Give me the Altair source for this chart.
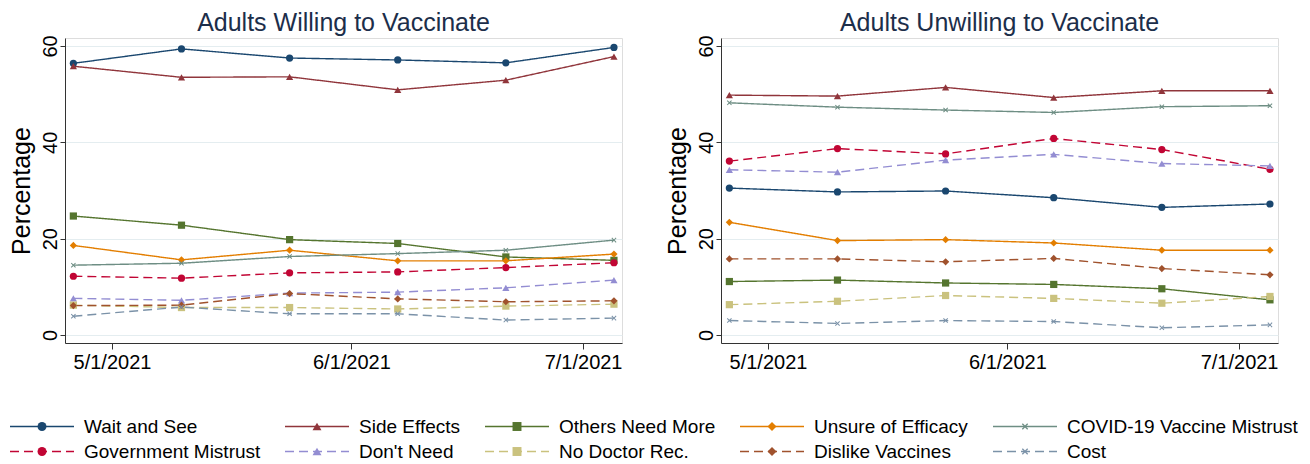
import altair as alt
import pandas as pd

# ---------------- data ----------------
dates = ["2021-04-26T00:00:00", "2021-05-10T00:00:00", "2021-05-24T00:00:00",
         "2021-06-07T00:00:00", "2021-06-21T00:00:00", "2021-07-05T00:00:00"]

series = ["Wait and See", "Side Effects", "Others Need More", "Unsure of Efficacy",
          "COVID-19 Vaccine Mistrust", "Government Mistrust", "Don't Need",
          "No Doctor Rec.", "Dislike Vaccines", "Cost"]

willing_wait = [56.4, 59.4, 57.5, 57.1, 56.5, 59.7]
willing_side = [55.8, 53.5, 53.6, 50.9, 52.9, 57.8]
willing_others = [24.7, 22.8, 19.8, 19.0, 16.2, 15.5]
willing_unsure = [18.6, 15.6, 17.6, 15.4, 15.4, 16.8]
willing_covid = [14.5, 14.9, 16.3, 16.9, 17.6, 19.7]
willing_govt = [12.2, 11.8, 12.9, 13.1, 14.0, 15.0]
willing_dontneed = [7.6, 7.2, 8.7, 8.9, 9.8, 11.4]
willing_nodoc = [6.2, 5.7, 5.7, 5.4, 6.0, 6.4]
willing_dislike = [6.1, 6.2, 8.6, 7.5, 6.9, 7.1]
willing_cost = [3.9, 5.8, 4.4, 4.4, 3.1, 3.5]

unwilling_wait = [30.5, 29.7, 29.9, 28.5, 26.5, 27.2]
unwilling_side = [49.8, 49.6, 51.4, 49.3, 50.7, 50.7]
unwilling_others = [11.1, 11.4, 10.8, 10.5, 9.6, 7.3]
unwilling_unsure = [23.4, 19.6, 19.8, 19.1, 17.6, 17.6]
unwilling_covid = [48.2, 47.3, 46.7, 46.2, 47.4, 47.6]
unwilling_govt = [36.1, 38.7, 37.6, 40.8, 38.5, 34.4]
unwilling_dontneed = [34.3, 33.8, 36.3, 37.5, 35.6, 35.1]
unwilling_nodoc = [6.3, 7.0, 8.2, 7.6, 6.6, 8.0]
unwilling_dislike = [15.8, 15.8, 15.2, 15.9, 13.8, 12.5]
unwilling_cost = [3.0, 2.4, 3.0, 2.8, 1.5, 2.1]

y_ticks = [0, 20, 40, 60]

# ---------------- styles ----------------
colors = ["#1a476f", "#90353b", "#55752f", "#e37e00", "#6e8e84",
          "#c10534", "#938dd2", "#cac27e", "#a0522d", "#7b92a8"]
XPATH = "M-0.7,-0.5L-0.5,-0.7L0,-0.2L0.5,-0.7L0.7,-0.5L0.2,0L0.7,0.5L0.5,0.7L0,0.2L-0.5,0.7L-0.7,0.5L-0.2,0Z"
shapes = ["circle", "triangle-up", "square", "diamond", XPATH,
          "circle", "triangle-up", "square", "diamond", XPATH]
dashes = [[1, 0]] * 5 + [[9, 5]] * 5

FONT = "Liberation Sans"
NO_VIEW = alt.ViewBackground(stroke="transparent", fill="transparent")


def long_df(cols):
    rows = []
    for name, vals in zip(series, cols):
        for d, v in zip(dates, vals):
            rows.append({"series": name, "date": d, "value": v})
    return pd.DataFrame(rows)


df_w = long_df([willing_wait, willing_side, willing_others, willing_unsure, willing_covid,
                willing_govt, willing_dontneed, willing_nodoc, willing_dislike, willing_cost])
df_u = long_df([unwilling_wait, unwilling_side, unwilling_others, unwilling_unsure, unwilling_covid,
                unwilling_govt, unwilling_dontneed, unwilling_nodoc, unwilling_dislike, unwilling_cost])

color_enc = alt.Color("series:N", scale=alt.Scale(domain=series, range=colors), legend=None)
shape_enc = alt.Shape("series:N", scale=alt.Scale(domain=series, range=shapes), legend=None)
dash_enc = alt.StrokeDash("series:N", scale=alt.Scale(domain=series, range=dashes), legend=None)


def panel(df, title):
    x = alt.X("date:T",
              scale=alt.Scale(domain=[alt.DateTime(year=2021, month=4, date=24, hours=22),
                                      alt.DateTime(year=2021, month=7, date=6, hours=1)],
                              nice=False),
              axis=alt.Axis(values=[alt.DateTime(year=2021, month=5, date=1),
                                    alt.DateTime(year=2021, month=6, date=1),
                                    alt.DateTime(year=2021, month=7, date=1)],
                            format="%-m/%-d/%Y", title=None, grid=False,
                            labelFontSize=20, labelFont=FONT, labelColor="black",
                            tickSize=6, labelPadding=3, labelFlush=False,
                            domainColor="#333333", tickColor="#333333"))
    y = alt.Y("value:Q",
              scale=alt.Scale(domain=[-1.66, 61.66], nice=False, zero=False),
              axis=alt.Axis(values=y_ticks, title="Percentage", titleFontSize=25,
                            titleFont=FONT, titleFontWeight="normal", titleColor="black",
                            titlePadding=6, labelAngle=270, labelAlign="center",
                            labelBaseline="bottom", labelFontSize=20, labelFont=FONT,
                            labelColor="black", labelPadding=0, tickSize=5,
                            grid=True, gridColor="#e4edf0", gridWidth=1.2,
                            domainColor="#333333", tickColor="#333333"))
    base = alt.Chart(df)
    lines = base.mark_line(strokeWidth=1.4).encode(x=x, y=y, color=color_enc, strokeDash=dash_enc)
    pts = base.mark_point(filled=True, opacity=1, size=52).encode(x=x, y=y, color=color_enc, shape=shape_enc)
    return alt.layer(lines, pts).properties(
        width=557, height=305,
        title=alt.TitleParams(title, fontSize=25, font=FONT, fontWeight="normal",
                              color="#1c2e4a", anchor="middle", offset=-1))


left = panel(df_w, "Adults Willing to Vaccinate")
right = panel(df_u, "Adults Unwilling to Vaccinate")
top = alt.hconcat(left, right, spacing=41)

# ---------------- legend ----------------
leg_df = pd.DataFrame({"series": series,
                       "row": [i // 5 for i in range(len(series))],
                       "col": [i % 5 for i in range(len(series))]})

SHIFT = -55  # pull legend back to the left edge (layout aligns to plot origin)


def legend_col(c):
    base = alt.Chart(leg_df).transform_filter(alt.datum.col == c)
    yenc = alt.Y("row:O", scale=alt.Scale(type="point", padding=0.5), axis=None)
    rule = base.mark_rule(strokeWidth=1.6).encode(
        x=alt.value(SHIFT), x2=alt.value(SHIFT + 64), y=yenc, color=color_enc, strokeDash=dash_enc)
    pt = base.mark_point(filled=True, opacity=1, size=80).encode(
        x=alt.value(SHIFT + 32), y=yenc, color=color_enc, shape=shape_enc)
    txt = base.mark_text(align="left", baseline="middle", fontSize=19, font=FONT,
                         color="black").encode(x=alt.value(SHIFT + 74), y=yenc, text="series:N")
    return alt.layer(rule, pt, txt).properties(width=1, height=50, view=NO_VIEW)


legend = alt.hconcat(*[legend_col(c) for c in range(5)], spacing=22)

chart = alt.concat(top, legend, columns=1, align="none", spacing=40).properties(
    padding={"left": 0, "top": 2, "right": 0, "bottom": 0}
).configure_view(stroke="transparent").configure(font=FONT)

chart.save("out.html", embed_options={"renderer": "svg", "actions": False})
